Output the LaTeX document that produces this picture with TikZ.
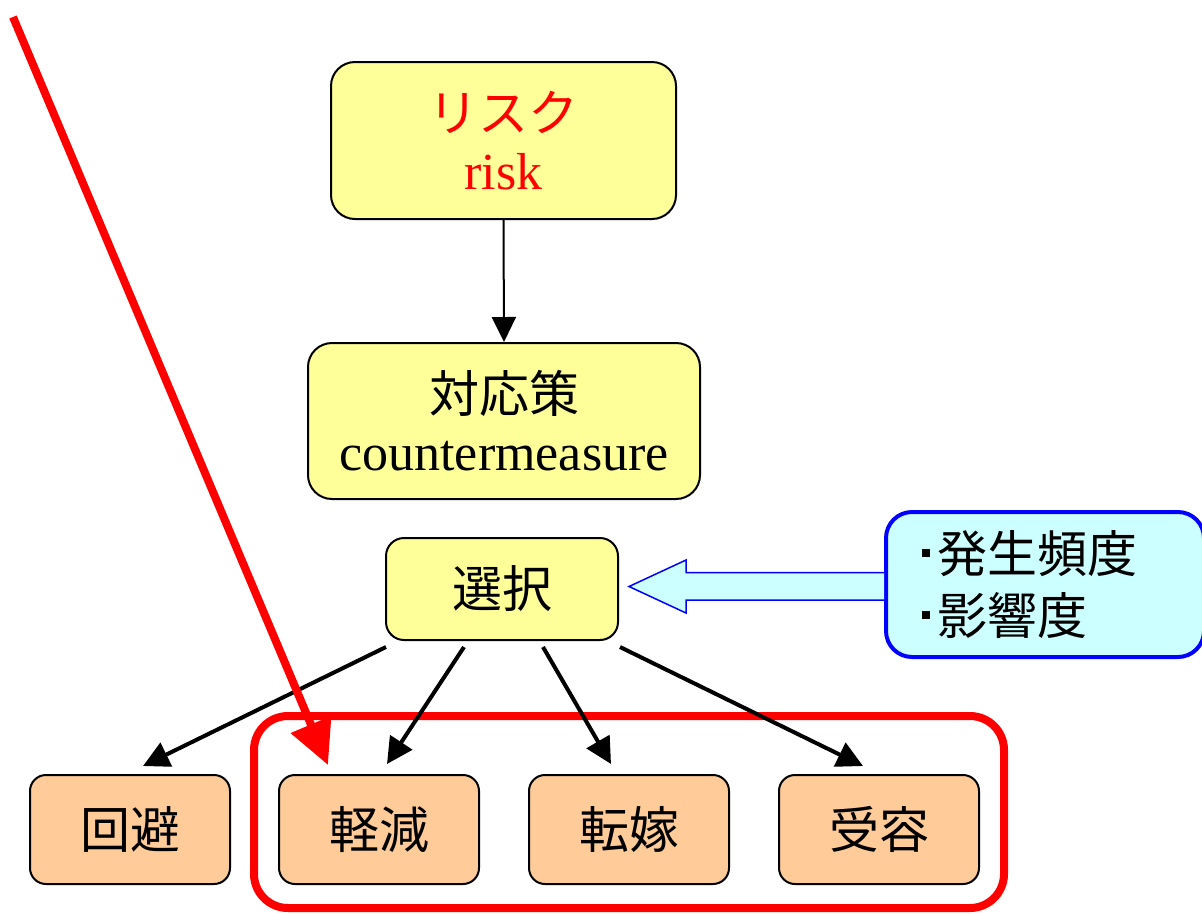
\documentclass[tikz,border=0pt]{standalone}
\usepackage{fontspec}
\setmainfont{Liberation Serif}
\newfontfamily\jp{Noto Sans CJK JP}
\usetikzlibrary{arrows.meta,calc}
\definecolor{ylw}{HTML}{FFFF99}
\definecolor{peach}{HTML}{FFCC99}
\definecolor{cyanf}{HTML}{CCFFFF}
\newcommand{\sqb}{\raisebox{15pt}{\rule{8pt}{8pt}}\hspace{7pt}}
\newcommand{\jpf}{\jp\fontsize{50}{58}\selectfont}
\begin{document}
\begin{tikzpicture}[x=1pt,y=-1pt,
  ybox/.style={draw=black, line width=2pt, rounded corners=24pt, fill=ylw, align=center, inner sep=0pt,
     font=\fontsize{52}{58}\selectfont},
  obox/.style={draw=black, line width=2pt, rounded corners=16pt, fill=peach, inner sep=0pt,
     minimum width=200pt, minimum height=109pt, font=\jpf},
  blk/.style={draw=black, line width=4pt, -{Triangle[length=26pt,width=26pt]}},
  thin/.style={draw=black, line width=2pt, -{Triangle[length=25pt,width=24pt]}}
]
\useasboundingbox (0,0) rectangle (1202,914);

% red frame
\draw[red, line width=8pt, rounded corners=34pt] (254,716) rectangle (1004,908);

\node[ybox, minimum width=345pt, minimum height=157pt] (risk) at (503.5,140.5)
  {\color{red}{\jpf リスク}\\ \color{red}risk};
\node[ybox, minimum width=392pt, minimum height=156pt] (cm) at (504,421)
  {{\jpf 対応策}\\ countermeasure};
\node[ybox, rounded corners=18pt, minimum width=232pt, minimum height=102pt, font=\jpf] (sel) at (502,589) {選択};

\node[draw=blue, line width=4pt, rounded corners=26pt, fill=cyanf, minimum width=318pt, minimum height=145pt,
  inner xsep=36pt, inner ysep=0pt, text width=246pt, align=left, font=\jp\fontsize{50}{62}\selectfont] (fac) at (1045,584.5)
  {\sqb 発生頻度\\ \sqb 影響度};

\node[obox] (a1) at (130,829.5) {回避};
\node[obox] (a2) at (379,829.5) {軽減};
\node[obox] (a3) at (629,829.5) {転嫁};
\node[obox] (a4) at (879,829.5) {受容};

% risk -> countermeasure
\draw[thin] (risk.south) -- (cm.north);

% selection arrows
\coordinate (s1) at (386,647); \coordinate (e1) at (143,766);
\coordinate (s2) at (464,647); \coordinate (e2) at (387,764);
\coordinate (s3) at (543,647); \coordinate (e3) at (611,764);
\coordinate (s4) at (620,647); \coordinate (e4) at (863,766);
\draw[blk] (s1) -- (e1);
\draw[blk] (s2) -- (e2);
\draw[blk] (s3) -- (e3);
\draw[blk] (s4) -- (e4);

% hollow arrow from factors to selection
\draw[blue, line width=1.5pt, fill=cyanf, line join=miter]
  ($(fac.west)+(0,-12)$) -- (686,572.5) -- (686,560) -- (629,586.5) -- (686,613) -- (686,600)
  -- ($(fac.west)+(0,15.5)$);

% red arrow
\coordinate (rs) at (13,17);
\coordinate (rt) at (328,765);
\draw[red, line width=8pt, -{Triangle[length=44pt,width=42pt]}] (rs) -- (rt);
\end{tikzpicture}
\end{document}
